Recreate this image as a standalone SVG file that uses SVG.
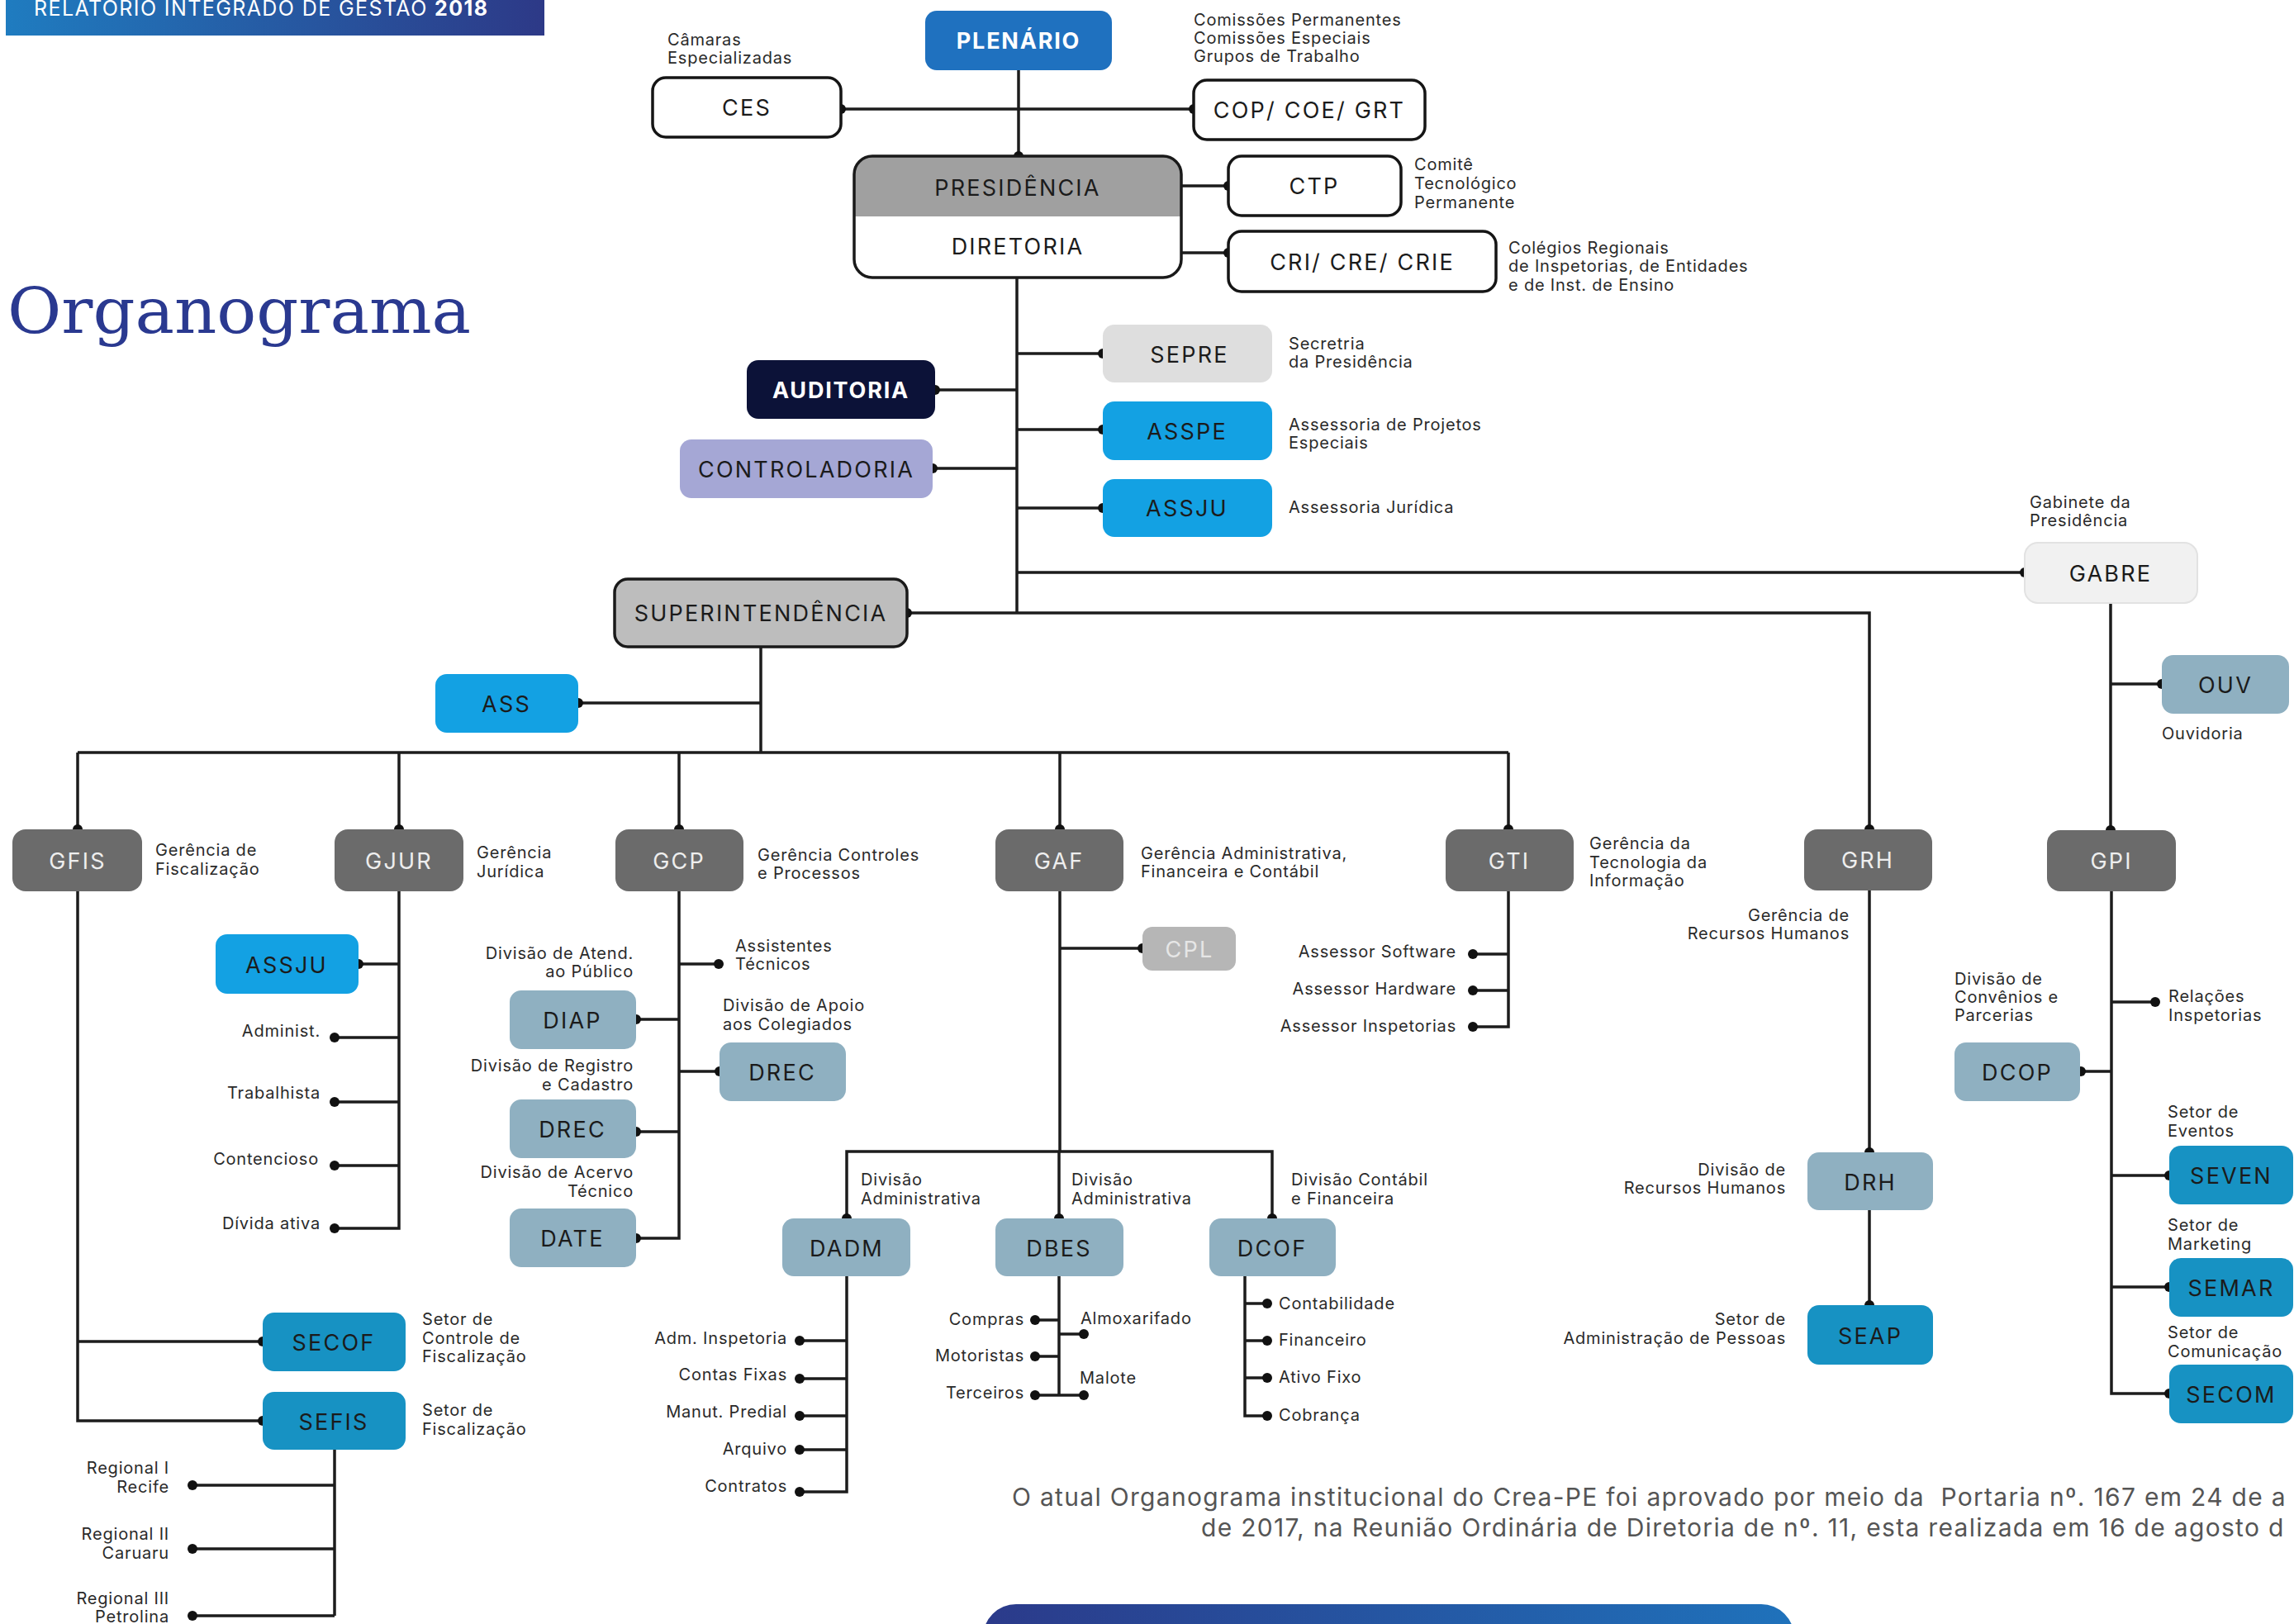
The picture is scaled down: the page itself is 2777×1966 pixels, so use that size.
<svg xmlns="http://www.w3.org/2000/svg" width="2777" height="1966" viewBox="0 0 2777 1966">
<defs>
<linearGradient id="hdr" x1="0" y1="0" x2="1" y2="0"><stop offset="0" stop-color="#1f7cc0"/><stop offset="1" stop-color="#2d3987"/></linearGradient>
<linearGradient id="ftr" x1="0" y1="0" x2="1" y2="0"><stop offset="0" stop-color="#2b3a8a"/><stop offset="1" stop-color="#1f72bb"/></linearGradient>
<clipPath id="presClip"><rect x="1034" y="189" width="396" height="147" rx="22"/></clipPath>
</defs>
<style>
text{font-family:Inter,"Liberation Sans",sans-serif}
.lbl{font-size:27px;letter-spacing:2.2px;text-anchor:middle;fill:#1b1b1b}
.lw{fill:#eeeeee}
.bold{font-weight:700;letter-spacing:1.8px;fill:#ffffff}
.sm{font-size:20px;letter-spacing:0.8px;fill:#2a2a2a}
.e{text-anchor:end}
.ln{fill:none;stroke:#1c1c1c;stroke-width:3.5}
.dot{fill:#111111}
.wb{fill:#ffffff;stroke:#151515;stroke-width:3.5}
.mg{fill:#6b6b6b}
.sb{fill:#8fb0c1}
.tb{fill:#1792c3}
.cb{fill:#13a1e3}
.title{font-family:"DejaVu Serif","Liberation Serif",serif;font-size:76px;fill:#2a3990}
.foot{font-size:30px;letter-spacing:1.3px;fill:#555555}
</style>
<rect width="2777" height="1966" fill="#ffffff"/>

<g id="header">
<rect x="7" y="0" width="652" height="43" fill="url(#hdr)"/>
<text x="41" y="19" font-size="25" letter-spacing="1.4" fill="#ffffff">RELATÓRIO INTEGRADO DE GESTÃO <tspan font-weight="700">2018</tspan></text>
</g>
<text id="title" class="title" x="9" y="403" textLength="561" lengthAdjust="spacingAndGlyphs">Organograma</text>

<g id="connectors">
<path class="ln" d="M1233 85V189M1018 132H1445M1430 225H1487M1430 306H1487"/>
<path class="ln" d="M1231 336V742M1231 428H1335M1132 472H1231M1231 520H1335M1129 567H1231M1231 615H1335M1231 693H2451"/>
<path class="ln" d="M1098 742H2263V1004M2555 730V1005M2555 828H2617"/>
<path class="ln" d="M921 783V911M700 851H921M94 911H1826M94 911V1004M483 911V1004M822 911V1004M1283 911V1004M1826 911V1004"/>
<path class="ln" d="M94 1079V1720H318M94 1624H318M405 1755V1956M233 1798H405M233 1875H405M233 1956H405"/>
<path class="ln" d="M483 1079V1487H405M434 1167H483M405 1256H483M405 1334H483M405 1411H483"/>
<path class="ln" d="M822 1079V1499H770M822 1167H870M770 1234H822M822 1297H871M770 1370H822"/>
<path class="ln" d="M1283 1079V1394M1283 1148H1383M1025 1475V1394H1540V1475M1282 1394V1475"/>
<path class="ln" d="M1025 1545V1806H968M968 1623H1025M968 1669H1025M968 1714H1025M968 1755H1025"/>
<path class="ln" d="M1282 1545V1689M1253 1598H1282M1282 1615H1312M1253 1642H1282M1253 1689H1312"/>
<path class="ln" d="M1507 1545V1714H1534M1507 1578H1534M1507 1623H1534M1507 1668H1534"/>
<path class="ln" d="M1826 1079V1243H1783M1783 1155H1826M1783 1199H1826"/>
<path class="ln" d="M2263 1078V1395M2263 1465V1580"/>
<path class="ln" d="M2556 1079V1687H2626M2556 1213H2609M2519 1297H2556M2556 1423H2626M2556 1558H2626"/>
<g class="dot">
<circle cx="1233" cy="189" r="6"/><circle cx="1018" cy="132" r="6"/><circle cx="1445" cy="132" r="6"/>
<circle cx="1487" cy="225" r="6"/><circle cx="1487" cy="306" r="6"/>
<circle cx="1335" cy="428" r="6"/><circle cx="1132" cy="472" r="6"/><circle cx="1335" cy="520" r="6"/><circle cx="1129" cy="567" r="6"/><circle cx="1335" cy="615" r="6"/>
<circle cx="2451" cy="693" r="6"/><circle cx="1098" cy="742" r="6"/><circle cx="2263" cy="1004" r="6"/><circle cx="2555" cy="1005" r="6"/><circle cx="2617" cy="828" r="6"/>
<circle cx="700" cy="851" r="6"/>
<circle cx="94" cy="1004" r="6"/><circle cx="483" cy="1004" r="6"/><circle cx="822" cy="1004" r="6"/><circle cx="1283" cy="1004" r="6"/><circle cx="1826" cy="1004" r="6"/>
<circle cx="318" cy="1624" r="6"/><circle cx="318" cy="1720" r="6"/>
<circle cx="233" cy="1798" r="6"/><circle cx="233" cy="1875" r="6"/><circle cx="233" cy="1956" r="6"/>
<circle cx="434" cy="1167" r="6"/><circle cx="405" cy="1256" r="6"/><circle cx="405" cy="1334" r="6"/><circle cx="405" cy="1411" r="6"/><circle cx="405" cy="1487" r="6"/>
<circle cx="870" cy="1167" r="6"/><circle cx="770" cy="1234" r="6"/><circle cx="871" cy="1297" r="6"/><circle cx="770" cy="1370" r="6"/><circle cx="770" cy="1499" r="6"/>
<circle cx="1383" cy="1148" r="6"/>
<circle cx="1025" cy="1475" r="6"/><circle cx="1282" cy="1475" r="6"/><circle cx="1540" cy="1475" r="6"/>
<circle cx="968" cy="1623" r="6"/><circle cx="968" cy="1669" r="6"/><circle cx="968" cy="1714" r="6"/><circle cx="968" cy="1755" r="6"/><circle cx="968" cy="1806" r="6"/>
<circle cx="1253" cy="1598" r="6"/><circle cx="1312" cy="1615" r="6"/><circle cx="1253" cy="1642" r="6"/><circle cx="1253" cy="1689" r="6"/><circle cx="1312" cy="1689" r="6"/>
<circle cx="1534" cy="1578" r="6"/><circle cx="1534" cy="1623" r="6"/><circle cx="1534" cy="1668" r="6"/><circle cx="1534" cy="1714" r="6"/>
<circle cx="1783" cy="1155" r="6"/><circle cx="1783" cy="1199" r="6"/><circle cx="1783" cy="1243" r="6"/>
<circle cx="2263" cy="1395" r="6"/><circle cx="2263" cy="1580" r="6"/>
<circle cx="2609" cy="1213" r="6"/><circle cx="2519" cy="1297" r="6"/><circle cx="2626" cy="1423" r="6"/><circle cx="2626" cy="1558" r="6"/><circle cx="2626" cy="1687" r="6"/>
</g>
</g>

<g id="plenario"><rect x="1120" y="13" width="226" height="72" rx="14" fill="#1f71bf"/><text class="lbl bold" x="1233" y="59">PLENÁRIO</text></g>
<g id="ces"><rect class="wb" x="790" y="94" width="228" height="72" rx="16"/><text class="lbl" x="904" y="140">CES</text>
<text class="sm" x="808" y="55">Câmaras</text><text class="sm" x="808" y="77">Especializadas</text></g>
<g id="cop"><rect class="wb" x="1445" y="97" width="280" height="72" rx="16"/><text class="lbl" x="1585" y="143">COP/ COE/ GRT</text>
<text class="sm" x="1445" y="31">Comissões Permanentes</text><text class="sm" x="1445" y="53">Comissões Especiais</text><text class="sm" x="1445" y="75">Grupos de Trabalho</text></g>
<g id="presidencia">
<g clip-path="url(#presClip)"><rect x="1034" y="189" width="396" height="147" fill="#ffffff"/><rect x="1034" y="189" width="396" height="73" fill="#a0a0a0"/></g>
<rect x="1034" y="189" width="396" height="147" rx="22" fill="none" stroke="#1a1a1a" stroke-width="3.5"/>
<text class="lbl" x="1232" y="237">PRESIDÊNCIA</text><text class="lbl" x="1232" y="308">DIRETORIA</text></g>
<g id="ctp"><rect class="wb" x="1487" y="189" width="209" height="72" rx="16"/><text class="lbl" x="1591" y="235">CTP</text>
<text class="sm" x="1712" y="206">Comitê</text><text class="sm" x="1712" y="229">Tecnológico</text><text class="sm" x="1712" y="252">Permanente</text></g>
<g id="cri"><rect class="wb" x="1487" y="280" width="324" height="73" rx="16"/><text class="lbl" x="1649" y="327">CRI/ CRE/ CRIE</text>
<text class="sm" x="1826" y="307">Colégios Regionais</text><text class="sm" x="1826" y="329">de Inspetorias, de Entidades</text><text class="sm" x="1826" y="352">e de Inst. de Ensino</text></g>
<g id="sepre"><rect x="1335" y="393" width="205" height="70" rx="14" fill="#dedede"/><text class="lbl" x="1440" y="439">SEPRE</text>
<text class="sm" x="1560" y="423">Secretria</text><text class="sm" x="1560" y="445">da Presidência</text></g>
<g id="auditoria"><rect x="904" y="436" width="228" height="71" rx="14" fill="#0c1238"/><text class="lbl bold" x="1018" y="482">AUDITORIA</text></g>
<g id="asspe"><rect class="cb" x="1335" y="486" width="205" height="71" rx="14"/><text class="lbl" x="1437" y="532">ASSPE</text>
<text class="sm" x="1560" y="521">Assessoria de Projetos</text><text class="sm" x="1560" y="543">Especiais</text></g>
<g id="controladoria"><rect x="823" y="532" width="306" height="71" rx="14" fill="#a5a7d5"/><text class="lbl" x="976" y="578">CONTROLADORIA</text></g>
<g id="assju"><rect class="cb" x="1335" y="580" width="205" height="70" rx="14"/><text class="lbl" x="1437" y="625">ASSJU</text>
<text class="sm" x="1560" y="621">Assessoria Jurídica</text></g>
<g id="gabre"><rect x="2451" y="657" width="209" height="73" rx="16" fill="#f1f1f1" stroke="#e2e2e2" stroke-width="2"/><text class="lbl" x="2555" y="704">GABRE</text>
<text class="sm" x="2457" y="615">Gabinete da</text><text class="sm" x="2457" y="637">Presidência</text></g>
<g id="superintendencia"><rect x="744" y="701" width="354" height="82" rx="16" fill="#bdbdbd" stroke="#1a1a1a" stroke-width="3.5"/><text class="lbl" x="921" y="752">SUPERINTENDÊNCIA</text></g>
<g id="ass"><rect class="cb" x="527" y="816" width="173" height="71" rx="14"/><text class="lbl" x="613" y="862">ASS</text></g>
<g id="ouv"><rect class="sb" x="2617" y="793" width="154" height="71" rx="14"/><text class="lbl" x="2694" y="839">OUV</text>
<text class="sm" x="2617" y="895">Ouvidoria</text></g>

<g id="gfis"><rect class="mg" x="15" y="1004" width="157" height="75" rx="16"/><text class="lbl lw" x="94" y="1052">GFIS</text>
<text class="sm" x="188" y="1036">Gerência de</text><text class="sm" x="188" y="1059">Fiscalização</text></g>
<g id="gjur"><rect class="mg" x="405" y="1004" width="156" height="75" rx="16"/><text class="lbl lw" x="483" y="1052">GJUR</text>
<text class="sm" x="577" y="1039">Gerência</text><text class="sm" x="577" y="1062">Jurídica</text></g>
<g id="gcp"><rect class="mg" x="745" y="1004" width="155" height="75" rx="16"/><text class="lbl lw" x="822" y="1052">GCP</text>
<text class="sm" x="917" y="1042">Gerência Controles</text><text class="sm" x="917" y="1064">e Processos</text></g>
<g id="gaf"><rect class="mg" x="1205" y="1004" width="155" height="75" rx="16"/><text class="lbl lw" x="1282" y="1052">GAF</text>
<text class="sm" x="1381" y="1040">Gerência Administrativa,</text><text class="sm" x="1381" y="1062">Financeira e Contábil</text></g>
<g id="gti"><rect class="mg" x="1750" y="1004" width="155" height="75" rx="16"/><text class="lbl lw" x="1827" y="1052">GTI</text>
<text class="sm" x="1924" y="1028">Gerência da</text><text class="sm" x="1924" y="1051">Tecnologia da</text><text class="sm" x="1924" y="1073">Informação</text></g>
<g id="grh"><rect class="mg" x="2184" y="1004" width="155" height="74" rx="16"/><text class="lbl lw" x="2261" y="1051">GRH</text>
<text class="sm e" x="2239" y="1115">Gerência de</text><text class="sm e" x="2239" y="1137">Recursos Humanos</text></g>
<g id="gpi"><rect class="mg" x="2478" y="1005" width="156" height="74" rx="16"/><text class="lbl lw" x="2556" y="1052">GPI</text></g>

<g id="cpl"><rect x="1383" y="1122" width="113" height="53" rx="12" fill="#b6b6b6"/><text class="lbl" x="1440" y="1159" style="fill:#e6e6e6">CPL</text></g>
<g id="assju2"><rect class="cb" x="261" y="1131" width="173" height="72" rx="14"/><text class="lbl" x="347" y="1178">ASSJU</text></g>
<g id="diap"><rect class="sb" x="617" y="1199" width="153" height="71" rx="14"/><text class="lbl" x="693" y="1245">DIAP</text>
<text class="sm e" x="767" y="1161">Divisão de Atend.</text><text class="sm e" x="767" y="1183">ao Público</text></g>
<g id="drec-apoio"><rect class="sb" x="871" y="1262" width="153" height="71" rx="14"/><text class="lbl" x="947" y="1308">DREC</text>
<text class="sm" x="875" y="1224">Divisão de Apoio</text><text class="sm" x="875" y="1247">aos Colegiados</text></g>
<g id="drec"><rect class="sb" x="617" y="1331" width="153" height="71" rx="14"/><text class="lbl" x="693" y="1377">DREC</text>
<text class="sm e" x="767" y="1297">Divisão de Registro</text><text class="sm e" x="767" y="1320">e Cadastro</text></g>
<g id="date"><rect class="sb" x="617" y="1463" width="153" height="71" rx="14"/><text class="lbl" x="693" y="1509">DATE</text>
<text class="sm e" x="767" y="1426">Divisão de Acervo</text><text class="sm e" x="767" y="1449">Técnico</text></g>
<g id="gcp-items"><text class="sm" x="890" y="1152">Assistentes</text><text class="sm" x="890" y="1174">Técnicos</text></g>
<g id="gjur-items">
<text class="sm e" x="388" y="1255">Administ.</text><text class="sm e" x="388" y="1330">Trabalhista</text><text class="sm e" x="386" y="1410">Contencioso</text><text class="sm e" x="388" y="1488">Dívida ativa</text></g>
<g id="secof"><rect class="tb" x="318" y="1589" width="173" height="71" rx="14"/><text class="lbl" x="404" y="1635">SECOF</text>
<text class="sm" x="511" y="1604">Setor de</text><text class="sm" x="511" y="1627">Controle de</text><text class="sm" x="511" y="1649">Fiscalização</text></g>
<g id="sefis"><rect class="tb" x="318" y="1685" width="173" height="70" rx="14"/><text class="lbl" x="404" y="1731">SEFIS</text>
<text class="sm" x="511" y="1714">Setor de</text><text class="sm" x="511" y="1737">Fiscalização</text></g>
<g id="regionais">
<text class="sm e" x="205" y="1784">Regional I</text><text class="sm e" x="205" y="1807">Recife</text>
<text class="sm e" x="205" y="1864">Regional II</text><text class="sm e" x="205" y="1887">Caruaru</text>
<text class="sm e" x="205" y="1942">Regional III</text><text class="sm e" x="205" y="1964">Petrolina</text></g>

<g id="dadm"><rect class="sb" x="947" y="1475" width="155" height="70" rx="14"/><text class="lbl" x="1025" y="1521">DADM</text>
<text class="sm" x="1042" y="1435">Divisão</text><text class="sm" x="1042" y="1458">Administrativa</text>
<text class="sm e" x="953" y="1627">Adm. Inspetoria</text><text class="sm e" x="953" y="1671">Contas Fixas</text><text class="sm e" x="953" y="1716">Manut. Predial</text><text class="sm e" x="953" y="1761">Arquivo</text><text class="sm e" x="953" y="1806">Contratos</text></g>
<g id="dbes"><rect class="sb" x="1205" y="1475" width="155" height="70" rx="14"/><text class="lbl" x="1282" y="1521">DBES</text>
<text class="sm" x="1297" y="1435">Divisão</text><text class="sm" x="1297" y="1458">Administrativa</text>
<text class="sm e" x="1240" y="1604">Compras</text><text class="sm e" x="1240" y="1648">Motoristas</text><text class="sm e" x="1240" y="1693">Terceiros</text>
<text class="sm" x="1308" y="1603">Almoxarifado</text><text class="sm" x="1307" y="1675">Malote</text></g>
<g id="dcof"><rect class="sb" x="1464" y="1475" width="153" height="70" rx="14"/><text class="lbl" x="1540" y="1521">DCOF</text>
<text class="sm" x="1563" y="1435">Divisão Contábil</text><text class="sm" x="1563" y="1458">e Financeira</text>
<text class="sm" x="1548" y="1585">Contabilidade</text><text class="sm" x="1548" y="1629">Financeiro</text><text class="sm" x="1548" y="1674">Ativo Fixo</text><text class="sm" x="1548" y="1720">Cobrança</text></g>
<g id="gti-items"><text class="sm e" x="1763" y="1159">Assessor Software</text><text class="sm e" x="1763" y="1204">Assessor Hardware</text><text class="sm e" x="1763" y="1249">Assessor Inspetorias</text></g>

<g id="drh"><rect class="sb" x="2188" y="1395" width="152" height="70" rx="14"/><text class="lbl" x="2264" y="1441">DRH</text>
<text class="sm e" x="2162" y="1423">Divisão de</text><text class="sm e" x="2162" y="1445">Recursos Humanos</text></g>
<g id="seap"><rect class="tb" x="2188" y="1580" width="152" height="72" rx="14"/><text class="lbl" x="2264" y="1627">SEAP</text>
<text class="sm e" x="2162" y="1604">Setor de</text><text class="sm e" x="2162" y="1627">Administração de Pessoas</text></g>
<g id="dcop"><rect class="sb" x="2366" y="1262" width="152" height="71" rx="14"/><text class="lbl" x="2442" y="1308">DCOP</text>
<text class="sm" x="2366" y="1192">Divisão de</text><text class="sm" x="2366" y="1214">Convênios e</text><text class="sm" x="2366" y="1236">Parcerias</text></g>
<g id="relacoes"><text class="sm" x="2625" y="1213">Relações</text><text class="sm" x="2625" y="1236">Inspetorias</text></g>
<g id="seven"><rect class="tb" x="2626" y="1387" width="150" height="71" rx="14"/><text class="lbl" x="2701" y="1433">SEVEN</text>
<text class="sm" x="2624" y="1353">Setor de</text><text class="sm" x="2624" y="1376">Eventos</text></g>
<g id="semar"><rect class="tb" x="2626" y="1523" width="150" height="71" rx="14"/><text class="lbl" x="2701" y="1569">SEMAR</text>
<text class="sm" x="2624" y="1490">Setor de</text><text class="sm" x="2624" y="1513">Marketing</text></g>
<g id="secom"><rect class="tb" x="2626" y="1652" width="150" height="71" rx="14"/><text class="lbl" x="2701" y="1698">SECOM</text>
<text class="sm" x="2624" y="1620">Setor de</text><text class="sm" x="2624" y="1643">Comunicação</text></g>

<g id="footer">
<text class="foot" x="1225" y="1823" xml:space="preserve">O atual Organograma institucional do Crea-PE foi aprovado por meio da  Portaria nº. 167 em 24 de a</text>
<text class="foot" x="1454" y="1860">de 2017, na Reunião Ordinária de Diretoria de nº. 11, esta realizada em 16 de agosto d</text>
<path d="M1190 1966V1982A40 40 0 0 1 1230 1942H2132A40 40 0 0 1 2172 1982V1966Z" fill="url(#ftr)"/>
</g>
</svg>
